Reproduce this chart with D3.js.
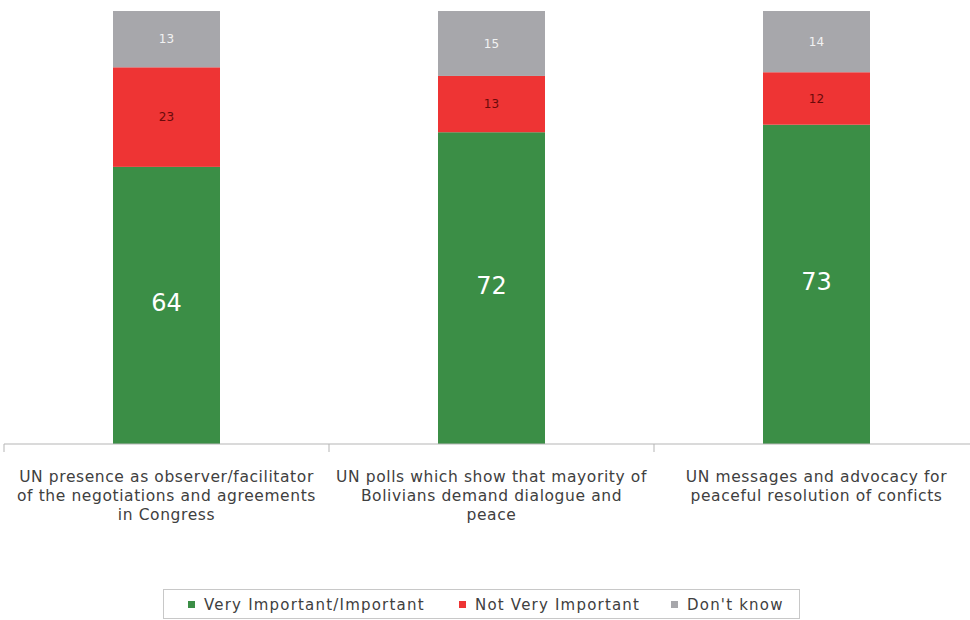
<!DOCTYPE html>
<html>
<head>
<meta charset="utf-8">
<script src="https://cdn.jsdelivr.net/npm/d3@7"></script>
<style>
html,body{margin:0;padding:0;background:#fff;}
svg{display:block;}
text{font-family:"DejaVu Sans",sans-serif;}
</style>
</head>
<body>
<svg id="chart" width="970" height="620"></svg>
<script>
const categories = [
  ["UN presence as observer/facilitator", "of the negotiations and agreements", "in Congress"],
  ["UN polls which show that mayority of", "Bolivians demand dialogue and", "peace"],
  ["UN messages and advocacy for", "peaceful resolution of conficts"]
];
const seriesNames = ["Very Important/Important", "Not Very Important", "Don't know"];
const veryImportant = [64, 72, 73];
const notVeryImportant = [23, 13, 12];
const dontKnow = [13, 15, 14];
const colors = ["#3b8e46", "#ee3434", "#a7a7ab"];
const labelColors = ["#ffffff", "#6a0a0a", "#f2f2f2"];

const rows = categories.map((c, i) => ({
  idx: i,
  s0: veryImportant[i], s1: notVeryImportant[i], s2: dontKnow[i]
}));
const keys = ["s0", "s1", "s2"];
const stack = d3.stack().keys(keys).offset(d3.stackOffsetExpand);
const layers = stack(rows);

const svg = d3.select("#chart");
const x = d3.scaleBand().domain(d3.range(categories.length)).range([4, 979]).paddingInner(0).paddingOuter(0);
const barW = 107;
const y = d3.scaleLinear().domain([0, 1]).range([444, 11]);

const g = svg.append("g");
layers.forEach((layer, li) => {
  g.selectAll(null).data(layer).enter().append("rect")
    .attr("x", d => x(d.data.idx) + x.bandwidth() / 2 - barW / 2)
    .attr("width", barW)
    .attr("y", d => y(d[1]))
    .attr("height", d => y(d[0]) - y(d[1]))
    .attr("fill", colors[li]);
  g.selectAll(null).data(layer).enter().append("text")
    .attr("x", d => x(d.data.idx) + x.bandwidth() / 2)
    .attr("y", d => (y(d[0]) + y(d[1])) / 2 - (li === 0 ? 3 : 0))
    .attr("dy", "0.36em")
    .attr("text-anchor", "middle")
    .attr("font-size", li === 0 ? 24 : 12)
    .attr("fill", labelColors[li])
    .text(d => d.data[keys[li]]);
});

// axis
const axisG = svg.append("g").attr("transform", "translate(0,444)");
axisG.append("line").attr("x1", 4).attr("x2", 970).attr("y1", 0).attr("y2", 0)
  .attr("stroke", "#b5b5b5").attr("stroke-width", 1.2);
const tickPos = d3.range(categories.length + 1).map(i => i < categories.length ? x(i) : x.range()[1]);
axisG.selectAll(null).data(tickPos).enter().append("line")
  .attr("x1", d => d).attr("x2", d => d).attr("y1", 0).attr("y2", 8)
  .attr("stroke", "#b5b5b5").attr("stroke-width", 1);

// category labels
categories.forEach((lines, i) => {
  const t = svg.append("text")
    .attr("text-anchor", "middle")
    .attr("font-size", 15.5)
    .attr("letter-spacing", 0.6)
    .attr("fill", "#404040");
  lines.forEach((ln, j) => {
    t.append("tspan")
      .attr("x", x(i) + x.bandwidth() / 2)
      .attr("y", 482 + j * 19)
      .text(ln);
  });
});

// legend
const lg = svg.append("g");
lg.append("rect").attr("x", 163.5).attr("y", 589.5).attr("width", 636).attr("height", 29)
  .attr("fill", "#fff").attr("stroke", "#c8c8c8");
const legendX = [188, 459, 671];
seriesNames.forEach((s, i) => {
  lg.append("rect").attr("x", legendX[i]).attr("y", 601).attr("width", 7).attr("height", 7)
    .attr("fill", colors[i]);
  lg.append("text").attr("x", legendX[i] + 16).attr("y", 609.5)
    .attr("font-size", 15).attr("letter-spacing", 1.2).attr("fill", "#404040").text(s);
});
</script>
</body>
</html>
